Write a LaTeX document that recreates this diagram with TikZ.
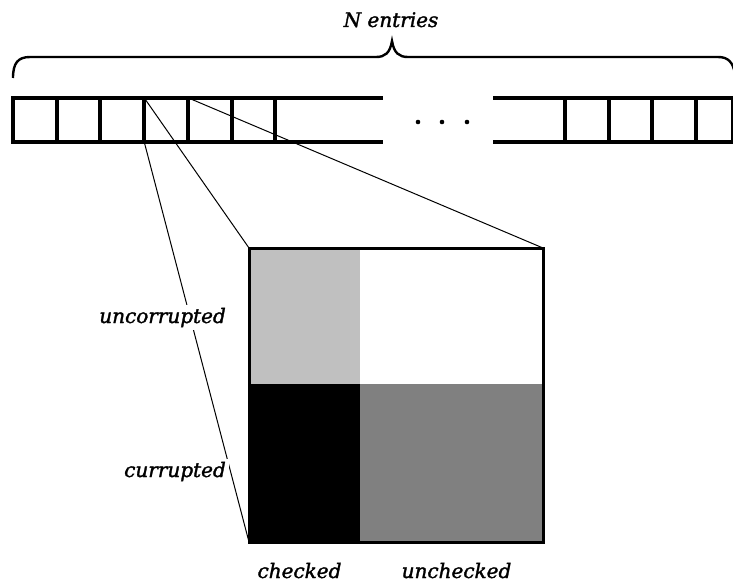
\documentclass[tikz,border=0pt]{standalone}
\usepackage{fontspec}
\setmainfont{DejaVu Serif}
\newfontfamily\lblfont{DejaVu Serif}[FakeBold=1.6]
\definecolor{paleshade}{RGB}{192,192,192}
\definecolor{midshade}{RGB}{128,128,128}
\begin{document}
\begin{tikzpicture}[x=1pt,y=-1pt,
  cell/.style={draw,line width=4pt,minimum height=43.8pt,inner sep=0pt,outer sep=0pt},
  bar/.style={line width=4pt},
  link/.style={line width=1pt},
  lbl/.style={font=\lblfont\fontsize{20}{24}\selectfont\itshape,inner sep=0pt},
  mask/.style={lbl,fill=white,inner sep=3pt}]
\useasboundingbox (0,0) rectangle (733,583);

% brace over the whole array
\draw[line width=2.4pt]
  (13,78) .. controls (13,63) and (18,57) .. (30,57) -- (376,57)
  .. controls (385,57) and (390,53) .. (392,41)
  .. controls (394,53) and (399,57) .. (408,57) -- (718,57)
  .. controls (728,57) and (733,62) .. (735,74);
\node[lbl,anchor=base] (title) at (391,27) {N entries};

% left part of the array
\foreach \i in {1,...,6}
  \node[cell,minimum width=43.7pt] (l\i) at ({13+43.7*(\i-0.5)},119.6) {};
\draw[bar] (11,97.7) -- (383,97.7);
\draw[bar] (11,141.5) -- (383,141.5);

% gap dots
\foreach \x in {418,442,467}
  \fill (\x,122) circle[radius=2.3pt];

% right part of the array
\node[cell,minimum width=43.5pt] (r1) at (586.75,119.6) {};
\node[cell,minimum width=43.5pt] (r2) at (630.25,119.6) {};
\node[cell,minimum width=43.5pt] (r3) at (673.75,119.6) {};
\node[cell,minimum width=37.5pt] (r4) at (714.25,119.6) {};
\draw[bar] (493,97.7) -- (735,97.7);
\draw[bar] (493,141.5) -- (735,141.5);

% enlarged entry, split into four states
\node[minimum width=294pt,minimum height=294pt,inner sep=0pt,outer sep=0pt] (zoom) at (396,395) {};
\coordinate (split) at (360,384);
\fill[paleshade] (zoom.north west) rectangle (split);
\fill[black] (zoom.south west) rectangle (split);
\fill[midshade] (zoom.south east) rectangle (split);
\draw[line width=3pt] (zoom.north west) rectangle (zoom.south east);

% projection lines from the chosen entry
\draw[link] (l4.north west) -- (zoom.north west);
\draw[link] (l4.south west) -- (zoom.south west);
\draw[link] (l5.north west) -- (zoom.north east);

% row and column labels
\node[mask,anchor=base east] (unc) at (229,323) {uncorrupted};
\node[mask,anchor=base east] (cor) at (229,477) {currupted};
\node[lbl,anchor=base] (chk) at (299.5,578) {checked};
\node[lbl,anchor=base] (unchk) at (456.5,578) {unchecked};
\end{tikzpicture}
\end{document}
